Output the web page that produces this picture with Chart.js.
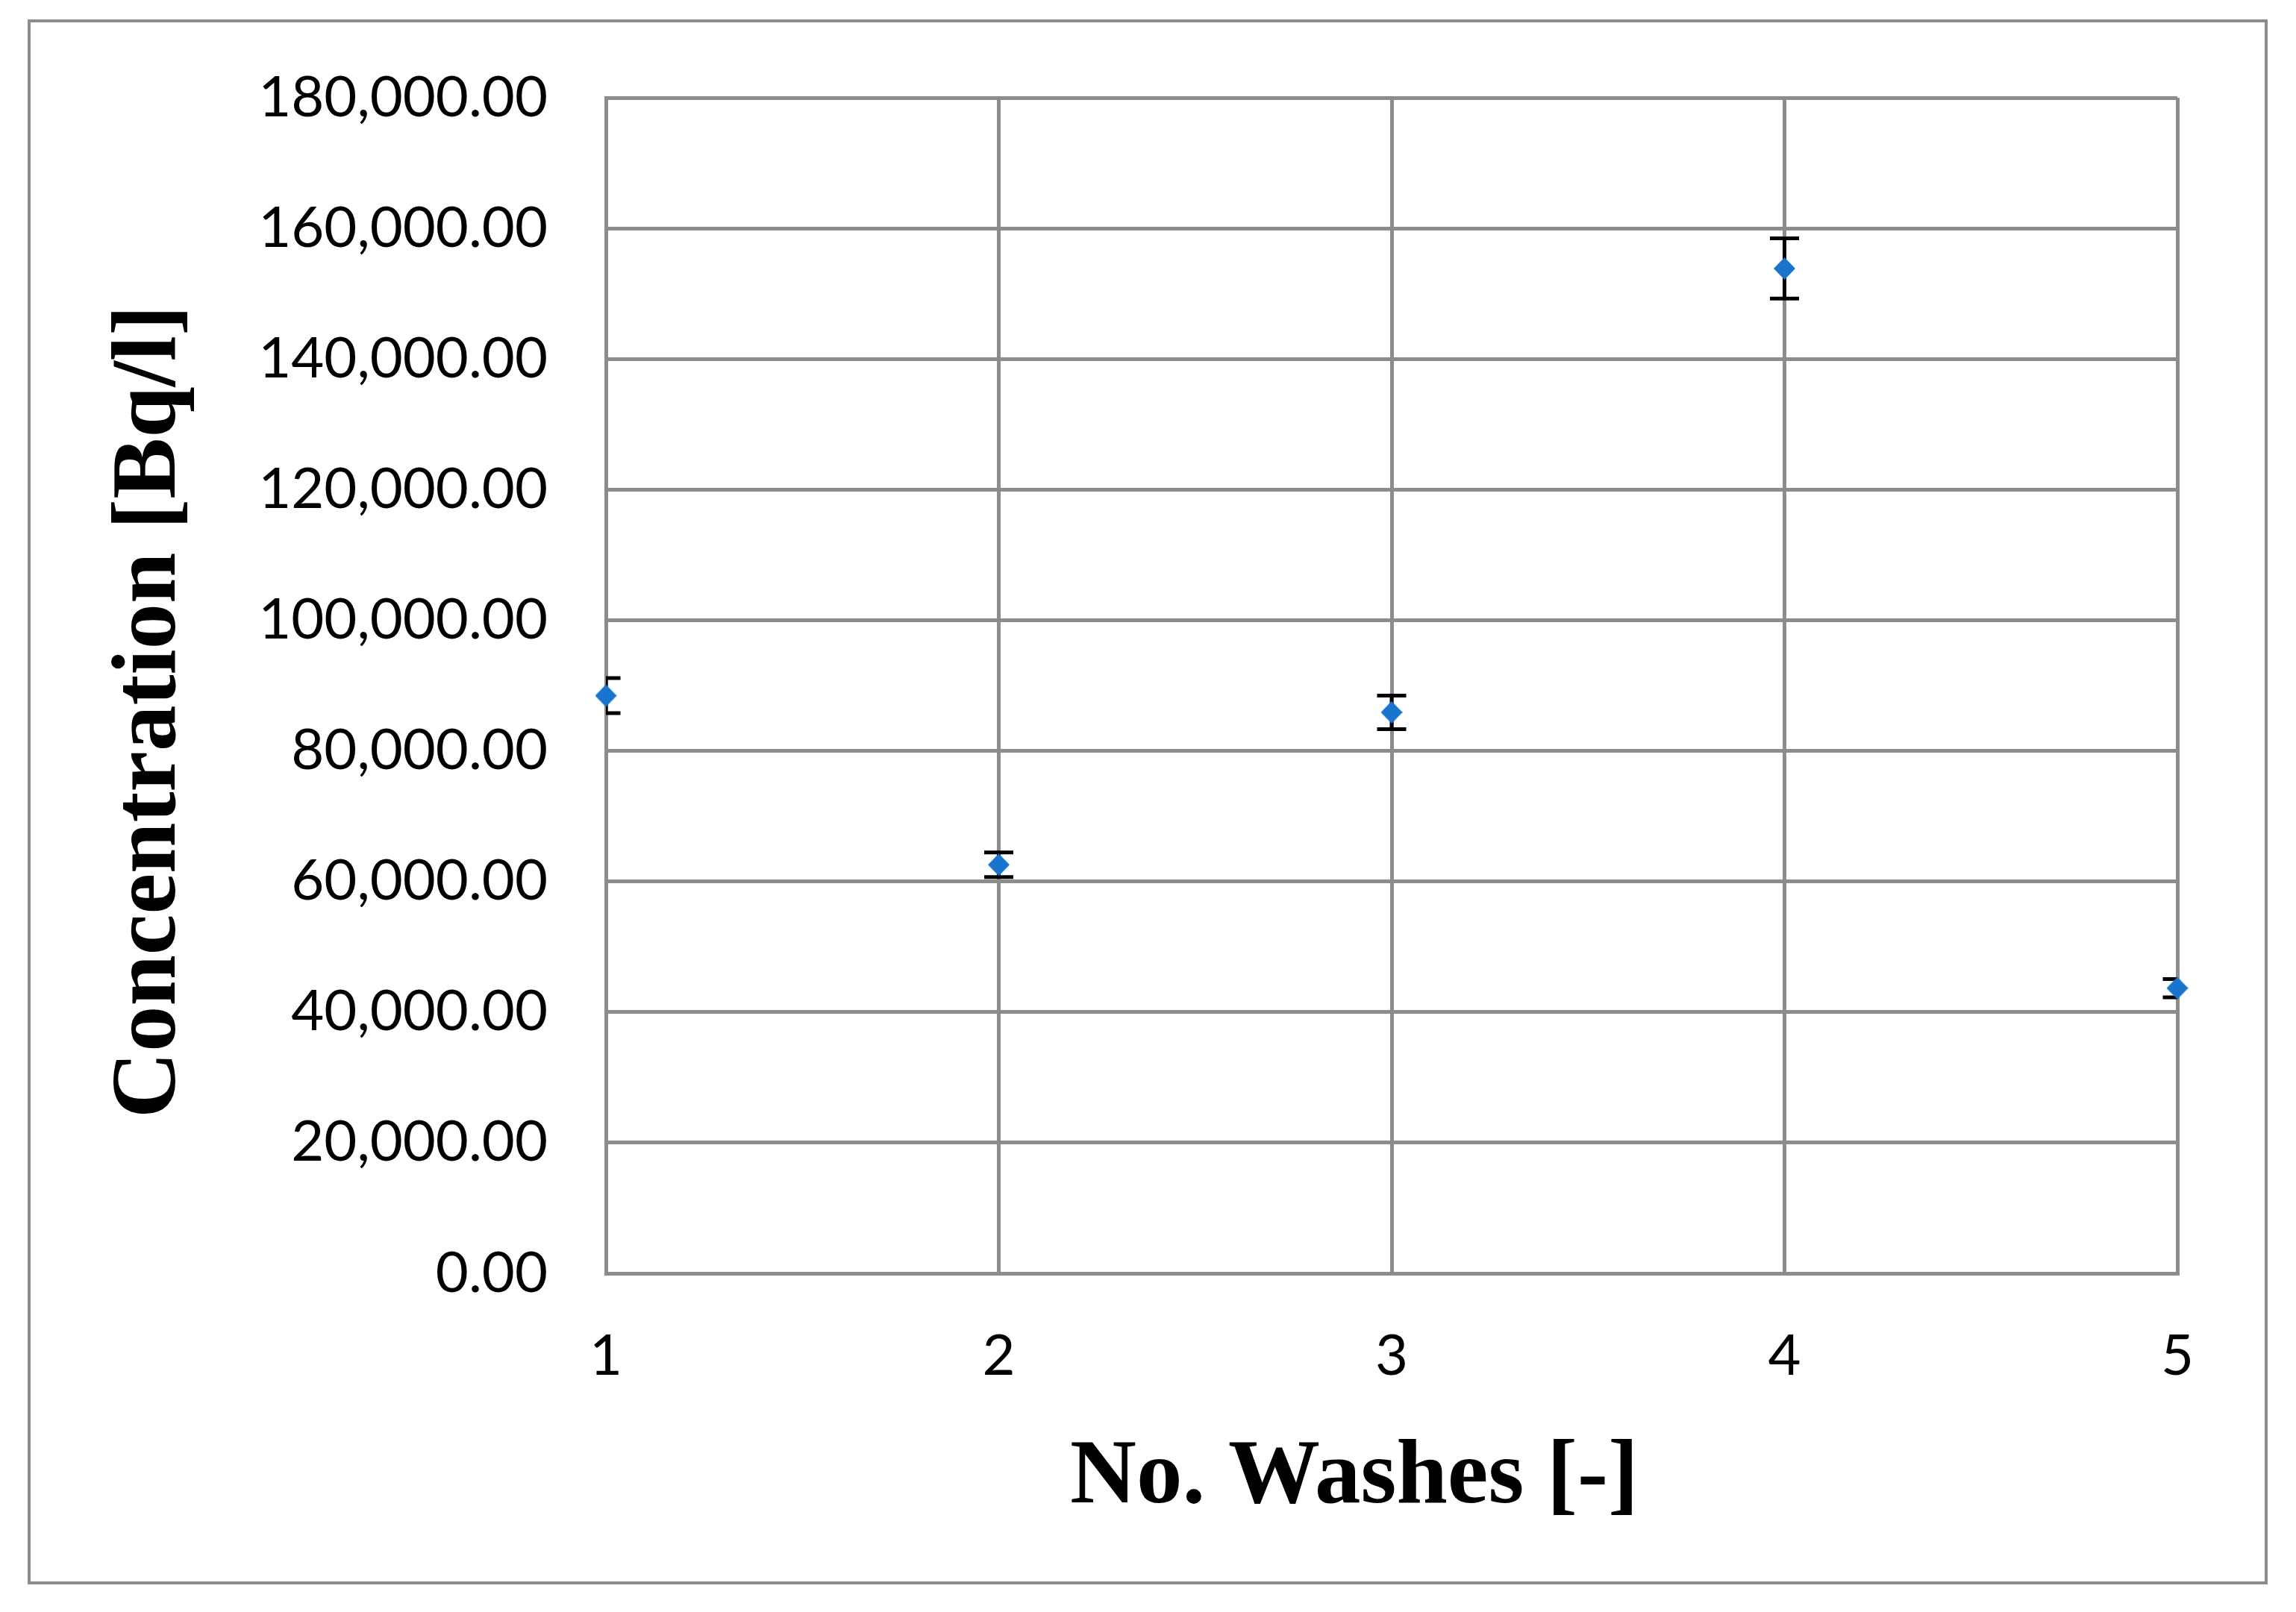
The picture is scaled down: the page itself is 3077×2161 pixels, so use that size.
<!DOCTYPE html>
<html>
<head>
<meta charset="utf-8">
<script src="https://cdn.jsdelivr.net/npm/chart.js@4.4.1/dist/chart.umd.min.js"></script>
<style>
  html, body { margin: 0; padding: 0; background: #ffffff; }
  body { width: 3077px; height: 2161px; position: relative; overflow: hidden; }
  #frame {
    position: absolute; left: 37px; top: 26px;
    width: 2994px; height: 2090px;
    border: 4px solid #8c8c8c; background: #ffffff;
  }
  #chart { display: block; }
</style>
</head>
<body>
<div id="frame"><canvas id="chart"></canvas></div>
<script>
// ---- data ----
const washes = [1, 2, 3, 4, 5];
const concentration = [88450, 62560, 85900, 153850, 43670];
const concentrationError = [2690, 1890, 2570, 4610, 1400];
const yTickMin = 0;
const yTickMax = 180000;
const yTickStep = 20000;
const xTitle = 'No. Washes [-]';
const yTitle = 'Concentration [Bq/l]';

// ---- styling ----
const gridColor = '#8c8c8c';
const markerColor = '#1874cd';
const titleFontCss = 'bold 123px "Liberation Serif"';

function diamond(w, h, color) {
  const c = document.createElement('canvas');
  c.width = w; c.height = h;
  const g = c.getContext('2d');
  g.fillStyle = color;
  g.beginPath();
  g.moveTo(w / 2, 0);
  g.lineTo(w, h / 2);
  g.lineTo(w / 2, h);
  g.lineTo(0, h / 2);
  g.closePath();
  g.fill();
  return c;
}

const errorBarPlugin = {
  id: 'errorBars',
  beforeDatasetsDraw(chart) {
    const ctx = chart.ctx;
    const xs = chart.scales.x, ys = chart.scales.y;
    const a = chart.chartArea;
    ctx.save();
    ctx.beginPath();
    ctx.rect(a.left, a.top - 20, a.right - a.left, a.bottom - a.top + 40);
    ctx.clip();
    ctx.strokeStyle = '#000000';
    washes.forEach((w, i) => {
      const x = xs.getPixelForValue(w);
      const yTop = ys.getPixelForValue(concentration[i] + concentrationError[i]);
      const yBot = ys.getPixelForValue(concentration[i] - concentrationError[i]);
      ctx.lineWidth = 5;
      ctx.beginPath();
      ctx.moveTo(x, yTop); ctx.lineTo(x, yBot);
      ctx.stroke();
      ctx.lineWidth = 5;
      ctx.beginPath();
      ctx.moveTo(x - 19.5, yTop); ctx.lineTo(x + 19.5, yTop);
      ctx.moveTo(x - 19.5, yBot); ctx.lineTo(x + 19.5, yBot);
      ctx.stroke();
    });
    ctx.restore();
  }
};

const axisTitlePlugin = {
  id: 'axisTitles',
  afterDraw(chart) {
    const ctx = chart.ctx;
    ctx.save();
    ctx.fillStyle = '#000000';
    ctx.font = titleFontCss;
    ctx.textAlign = 'center';
    ctx.textBaseline = 'middle';
    ctx.fillText(xTitle, 1774, 1952);
    ctx.translate(161, 924);
    ctx.rotate(-Math.PI / 2);
    ctx.fillText(yTitle, 0, 0);
    ctx.restore();
  }
};

const tickFont = { family: 'Lato', size: 76 };

new Chart(document.getElementById('chart'), {
  type: 'scatter',
  data: {
    datasets: [{
      label: 'Concentration',
      data: washes.map((w, i) => ({ x: w, y: concentration[i] })),
      pointStyle: diamond(29, 30, markerColor),
      pointRadius: 15,
      backgroundColor: markerColor,
      borderColor: markerColor,
      clip: false
    }]
  },
  plugins: [errorBarPlugin, axisTitlePlugin],
  options: {
    responsive: true,
    maintainAspectRatio: false,
    animation: false,
    devicePixelRatio: 1,
    layout: { padding: { top: 101, right: 117, bottom: 0, left: 0 } },
    plugins: { legend: { display: false }, tooltip: { enabled: false } },
    scales: {
      x: {
        type: 'linear',
        min: 1, max: 5,
        ticks: { stepSize: 1, color: '#000000', font: tickFont, padding: 66 },
        grid: { color: gridColor, lineWidth: 5, drawTicks: false },
        border: { color: gridColor, width: 5 },
        title: { display: false, text: xTitle },
        afterFit(scale) { scale.height = 413; }
      },
      y: {
        type: 'linear',
        min: yTickMin, max: yTickMax,
        ticks: {
          stepSize: yTickStep, color: '#000000', font: tickFont, padding: 78,
          callback: v => Number(v).toLocaleString('en-US', { minimumFractionDigits: 2, maximumFractionDigits: 2 })
        },
        grid: { color: gridColor, lineWidth: 5, drawTicks: false },
        border: { color: gridColor, width: 5 },
        title: { display: false, text: yTitle },
        afterFit(scale) { scale.width = 771; scale.paddingTop = 0; scale.paddingBottom = 0; }
      }
    }
  }
});
</script>
</body>
</html>
